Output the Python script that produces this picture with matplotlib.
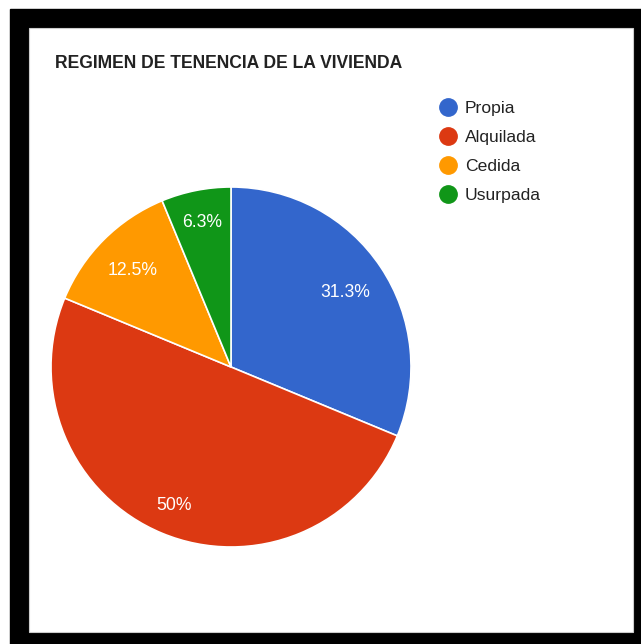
import math
import matplotlib
matplotlib.use("Agg")
import matplotlib.pyplot as plt
from matplotlib.lines import Line2D
from matplotlib.patches import Rectangle

plt.rcParams['font.family'] = ['Liberation Sans', 'DejaVu Sans']

# data
labels = ['Propia', 'Alquilada', 'Cedida', 'Usurpada']
values = [5, 8, 2, 1]
colors = ['#3366cc', '#dc3912', '#ff9900', '#109618']
title = 'REGIMEN DE TENENCIA DE LA VIVIENDA'

# distance of each percentage label from the centre (fraction of radius)
label_radius = [0.76, 0.82, 0.77, 0.83]

W, H = 641, 644
fig = plt.figure(figsize=(W / 100, H / 100), dpi=100)

# black frame around the white chart area
fig.patches.append(Rectangle((10 / W, 0), (W - 10) / W, (H - 9) / H,
                             transform=fig.transFigure, color='black', zorder=0))
fig.patches.append(Rectangle((29 / W, 12 / H), 604 / W, 604 / H,
                             transform=fig.transFigure, facecolor='white',
                             edgecolor='#cccccc', linewidth=0.8, zorder=1))


def fmt_pct(p):
    # round half up, like the original chart
    v = math.floor(float(p) * 10 + 0.5) / 10
    s = f"{v:.1f}"
    if s.endswith('.0'):
        s = s[:-2]
    return s + '%'


ax = fig.add_axes([51 / W, (H - 547) / H, 360 / W, 360 / H])
ax.set_zorder(3)
wedges, texts = ax.pie(values, colors=colors, startangle=90, counterclock=False,
                       wedgeprops=dict(edgecolor='white', linewidth=1.2))
total = sum(values)
for w, v, r in zip(wedges, values, label_radius):
    mid = math.radians((w.theta1 + w.theta2) / 2)
    x = r * math.cos(mid)
    y = r * math.sin(mid) - 0.035
    ax.text(x, y, fmt_pct(100 * v / total), color='white', fontsize=12.7,
            ha='center', va='baseline')
ax.set_xlim(-1, 1)
ax.set_ylim(-1, 1)
ax.set_aspect('equal')
ax.axis('off')

fig.text(55 / W, 1 - 64 / H, title, fontsize=12.65, fontweight='bold',
         color='#222222', va='center', ha='left', zorder=4)

handles = [Line2D([], [], linestyle='none', marker='o', markersize=12.5,
                  markerfacecolor=c, markeredgecolor=c) for c in colors]
leg = fig.legend(handles, labels, loc='upper left', bbox_to_anchor=(437 / W, 1 - 101 / H),
                 frameon=False, fontsize=12.6, labelspacing=0.78, handletextpad=0.4,
                 handlelength=1.2, borderpad=0, borderaxespad=0)
leg.set_zorder(4)
for t in leg.get_texts():
    t.set_color('#222222')

plt.savefig('out.png', dpi=100)
